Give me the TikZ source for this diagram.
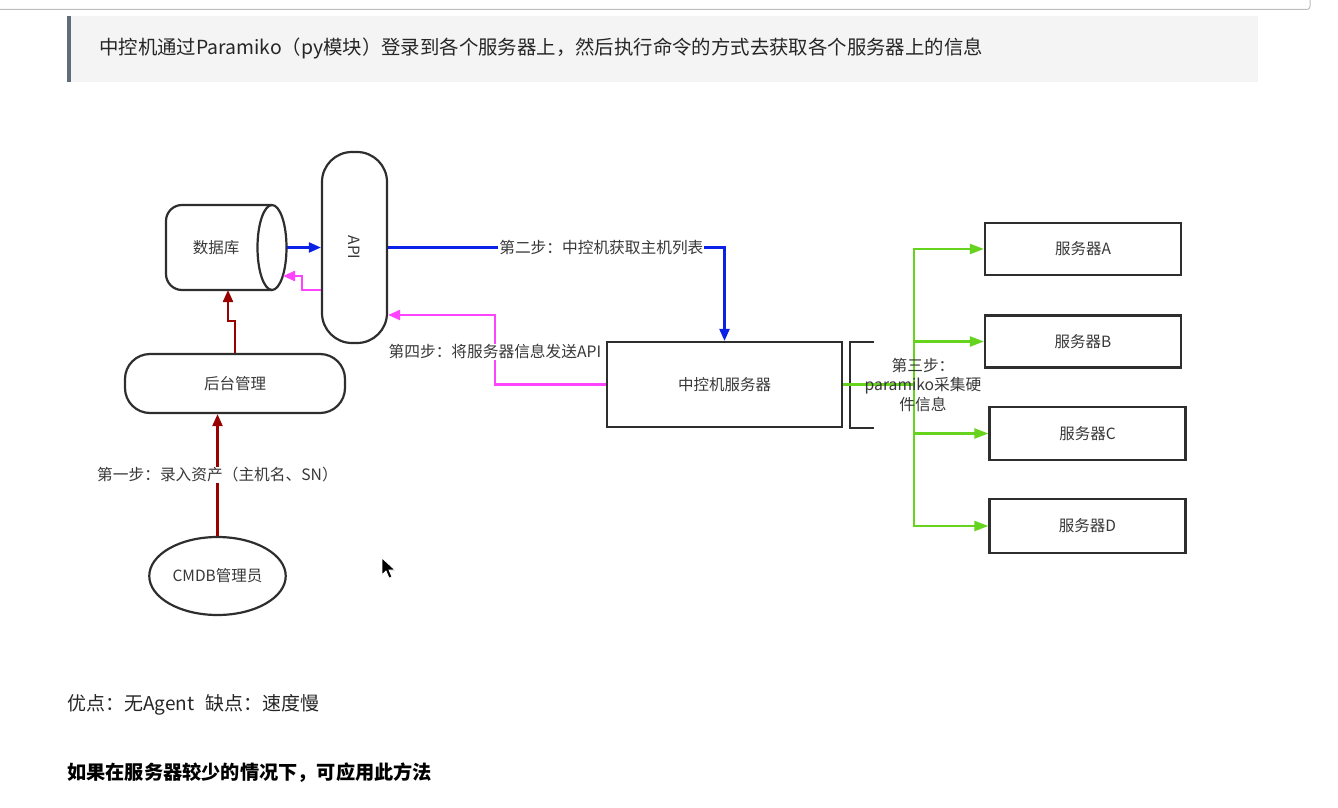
\documentclass[tikz,border=0pt]{standalone}
\usepackage{fontspec}
\setmainfont{Noto Sans CJK SC}
\usepackage{xcolor}
\usepackage{tikz}
\usetikzlibrary{arrows.meta,calc,positioning,shapes.geometric}
\definecolor{linegray}{HTML}{2E2E2E}
\definecolor{textgray}{HTML}{383838}
\definecolor{stepblue}{HTML}{0A22E6}
\definecolor{steppink}{HTML}{FF44FF}
\definecolor{stepgreen}{HTML}{66D41E}
\definecolor{stepred}{HTML}{990000}
\definecolor{quotebg}{HTML}{F4F4F4}
\definecolor{quotebar}{HTML}{5D6D79}
\definecolor{barline}{HTML}{BDBDBD}

\tikzset{
    box/.style={draw=linegray, line width=2.2pt, text=textgray, font=\fontsize{15.5}{18}\selectfont},
    steplabel/.style={text=textgray, font=\fontsize{15.7}{19.5}\selectfont, inner sep=1pt},
    bluearrow/.style={draw=stepblue, line width=2.2pt, -{Triangle[length=12pt,width=10pt]}},
    pinkarrow/.style={draw=steppink, line width=2.2pt, -{Triangle[length=12pt,width=10pt]}},
    redarrow/.style={draw=stepred, line width=2.2pt, -{Triangle[length=12pt,width=10pt]}},
    greenline/.style={draw=stepgreen, line width=2.2pt},
    greenarrow/.style={draw=stepgreen, line width=2.2pt, -{Triangle[length=14pt,width=10pt]}},
}

\begin{document}
\begin{tikzpicture}[x=1pt,y=-1pt]
    \useasboundingbox (0,0) rectangle (1338,808);
    \draw[barline, line width=1pt, rounded corners=3] (0,9.5) -- (1310,9.5) -- (1310,0);

    \fill[quotebg] (67,16) rectangle (1258,82);
    \fill[quotebar] (67,16) rectangle (71,82);
    \node[anchor=west, inner sep=0, text=black!85, font=\fontsize{19.4}{22}\selectfont] (quote) at (99,48)
        {中控机通过Paramiko（py模块）登录到各个服务器上，然后执行命令的方式去获取各个服务器上的信息};

    \node[box, draw=none, minimum width=106, minimum height=85, inner sep=0] (db) at (216,247.5) {数据库};
    \draw[box, rounded corners=16] (272,205) -- (166,205) -- (166,290) -- (272,290);
    \draw[box] (272,247.5) ellipse (14.5 and 42.5);
    \coordinate (dbcap) at (287,247.5);

    \node[box, rounded corners=30, minimum width=65, minimum height=191] (api) at (354.5,247.5) {\rotatebox{-90}{API}};
    \node[box, rounded corners=25, minimum width=220, minimum height=59] (admin) at (235,383.5) {后台管理};
    \node[box, ellipse, minimum width=125, minimum height=78] (cmdb) at (217.5,576) {CMDB管理员};
    \node[box, minimum width=235, minimum height=85] (ctrl) at (724.5,384.5) {中控机服务器};

    \node[box, minimum width=196, minimum height=52] (srvA) at (1083,249) {服务器A};
    \node[box, minimum width=196, minimum height=52] (srvB) at (1083,341.5) {服务器B};
    \node[box, minimum width=196, minimum height=53] (srvC) at (1087.5,433.5) {服务器C};
    \node[box, minimum width=196, minimum height=54] (srvD) at (1087.5,526) {服务器D};

    \draw[bluearrow] (dbcap) -- (dbcap -| api.west);
    \draw[pinkarrow] ($(api.west)+(0,42.5)$) -- ++(-19,0) |- (283,276);
    \draw[redarrow] (admin.north) -- ++(0,-32) -| (228,290);
    \draw[redarrow] (cmdb.north) -- (cmdb.north |- admin.south)
        node[midway, steplabel, fill=white] {第一步：录入资产（主机名、SN）};

    \draw[bluearrow] (api.east) -| (ctrl.north)
        node[pos=0.317, steplabel, fill=white] {第二步：中控机获取主机列表};
    \draw[pinkarrow] (ctrl.west) -- ++(-111,0) |- ($(api.east)+(0,67.5)$)
        node[pos=0.234, steplabel, fill=white] {第四步：将服务器信息发送API};

    \draw[linegray, line width=2.2pt] ($(ctrl.north east)+(31,1)$) -- ++(-24,0)
        -- ($(ctrl.south east)+(7,0)$) -- ++(24,0);

    \coordinate (hub) at ($(ctrl.east)+(71,0)$);
    \draw[greenline] (ctrl.east) -- (hub);
    \foreach \srv in {srvA,srvB,srvC,srvD}
        \draw[greenarrow] (hub) |- (\srv.west);
    \node[steplabel, align=center] (step3) at (923,385) {第三步：\\paramiko采集硬\\件信息};

    \filldraw[fill=black, draw=white, line width=0.8pt] (382,558) -- (382,575) -- (386,571)
        -- (389,578) -- (392,577) -- (389,570) -- (395,570) -- cycle;

    \node[anchor=west, inner sep=0, text=black!85, font=\fontsize{19}{22}\selectfont] (pros) at (67,705)
        {优点：无Agent\hspace{0.6em}缺点：速度慢};
    \node[anchor=west, inner sep=0, text=black, font=\fontsize{19.2}{22}\selectfont\bfseries] (advice) at (67,773)
        {如果在服务器较少的情况下，可应用此方法};
\end{tikzpicture}
\end{document}
